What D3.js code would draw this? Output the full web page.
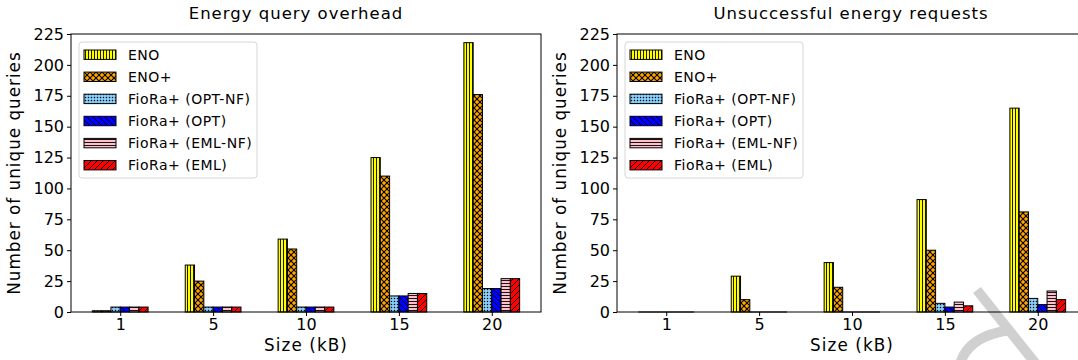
<!DOCTYPE html>
<html>
<head>
<meta charset="utf-8">
<script src="https://cdn.jsdelivr.net/npm/d3@7"></script>
<style>
  body { margin: 0; background: #fff; }
  svg { display: block; font-family: "DejaVu Sans", sans-serif; }
</style>
</head>
<body>
<svg id="chart" width="1078" height="360"></svg>
<script>
// Data
const sizes = ["1", "5", "10", "15", "20"];
const seriesNames = ["ENO", "ENO+", "FioRa+ (OPT-NF)", "FioRa+ (OPT)", "FioRa+ (EML-NF)", "FioRa+ (EML)"];
const yTicks = [0, 25, 50, 75, 100, 125, 150, 175, 200, 225];

// Energy query overhead
const overheadEno = [1, 38, 59, 125, 218];
const overheadEnoPlus = [1, 25, 51, 110, 176];
const overheadOptNf = [4, 4, 4, 13, 19];
const overheadOpt = [4, 4, 4, 13, 19];
const overheadEmlNf = [4, 4, 4, 15, 27];
const overheadEml = [4, 4, 4, 15, 27];

// Unsuccessful energy requests
const failedEno = [0, 29, 40, 91, 165];
const failedEnoPlus = [0, 10, 20, 50, 81];
const failedOptNf = [0, 0, 0, 7, 11];
const failedOpt = [0, 0, 0, 4, 6];
const failedEmlNf = [0, 0, 0, 8, 17];
const failedEml = [0, 0, 0, 5, 10];

const fills = ["#ffff00", "#ffa500", "#87cefa", "#0000ff", "#ffc0cb", "#ff0000"];
const hatches = ["vert", "cross", "dots", "back", "horiz", "fwd"];

const svg = d3.select("#chart");

// Faint grey watermark stroke in the lower right corner (behind everything)
const mark = svg.append("g")
    .attr("fill", "none")
    .attr("stroke", "#d0d0d0")
    .attr("stroke-width", 10)
    .attr("stroke-linecap", "butt");
mark.append("path").attr("d", "M977,290 L1036,364");
mark.append("path").attr("d", "M960,364 Q968,336 1010,330");

// Hatch patterns (black strokes over the fill colour)
const defs = svg.append("defs");
function addPattern(id, color, kind) {
    const size = kind === "cross" || kind === "back" || kind === "fwd" ? 6 : 3;
    const p = defs.append("pattern")
        .attr("id", id)
        .attr("patternUnits", "userSpaceOnUse")
        .attr("width", size)
        .attr("height", size);
    p.append("rect").attr("width", size).attr("height", size).attr("fill", color);
    const sw = kind === "cross" ? 1.1 : 0.9;
    const line = (x1, y1, x2, y2) => p.append("line")
        .attr("x1", x1).attr("y1", y1).attr("x2", x2).attr("y2", y2)
        .attr("stroke", "#000").attr("stroke-width", sw);
    if (kind === "vert") line(1.5, 0, 1.5, size);
    if (kind === "horiz") line(0, 1.5, size, 1.5);
    if (kind === "fwd") { line(0, size, size, 0); line(-1, 1, 1, -1); line(size - 1, size + 1, size + 1, size - 1); }
    if (kind === "back") { line(0, 0, size, size); line(-1, size - 1, 1, size + 1); line(size - 1, -1, size + 1, 1); }
    if (kind === "cross") {
        line(0, 0, size, size); line(0, size, size, 0);
    }
    if (kind === "dots") {
        p.append("circle").attr("cx", 1.5).attr("cy", 1.5).attr("r", 0.75).attr("fill", "#000");
    }
}
seriesNames.forEach((s, i) => addPattern("hatch" + i, fills[i], hatches[i]));

const margin = { top: 34, bottom: 312 };
const y = d3.scaleLinear().domain([0, 225]).range([margin.bottom, margin.top]);
const barWidth = 0.1;

function drawPanel(left, right, title, series, titleX) {
    const x = d3.scaleLinear().domain([-0.53, 4.53]).range([left, right]);
    const g = svg.append("g");

    // Bars
    series.forEach((values, si) => {
        const offset = (si - 2.5) * barWidth;
        values.forEach((v, ci) => {
            const x0 = x(ci + offset - barWidth / 2);
            const w = x(ci + offset + barWidth / 2) - x0;
            if (v > 0) {
                g.append("rect")
                    .attr("x", x0)
                    .attr("y", y(v))
                    .attr("width", w)
                    .attr("height", y(0) - y(v))
                    .attr("fill", `url(#hatch${si})`)
                    .attr("stroke", "#000")
                    .attr("stroke-width", 1);
            } else {
                g.append("line")
                    .attr("x1", x0).attr("x2", x0 + w)
                    .attr("y1", y(0)).attr("y2", y(0))
                    .attr("stroke", "#000").attr("stroke-width", 1);
            }
        });
    });

    // Frame
    g.append("rect")
        .attr("x", left).attr("y", margin.top)
        .attr("width", right - left).attr("height", margin.bottom - margin.top)
        .attr("fill", "none").attr("stroke", "#000").attr("stroke-width", 1);

    // Axes
    const xAxis = d3.axisBottom(x)
        .tickValues(d3.range(sizes.length))
        .tickFormat((d) => sizes[d])
        .tickSize(4).tickPadding(3);
    const gx = g.append("g").attr("transform", `translate(0,${margin.bottom})`).call(xAxis);
    const yAxis = d3.axisLeft(y).tickValues(yTicks).tickSize(4).tickPadding(3);
    const gy = g.append("g").attr("transform", `translate(${left},0)`).call(yAxis);
    [gx, gy].forEach((a) => {
        a.select(".domain").remove();
        a.selectAll("text").attr("font-size", 16).attr("font-family", "DejaVu Sans").attr("fill", "#000");
        a.selectAll("line").attr("stroke", "#000");
    });

    // Labels
    g.append("text")
        .attr("x", titleX).attr("y", 19)
        .attr("text-anchor", "middle")
        .attr("font-size", 16.5).attr("letter-spacing", 1)
        .text(title);
    g.append("text")
        .attr("x", (left + right) / 2).attr("y", 351)
        .attr("text-anchor", "middle")
        .attr("font-size", 16.8).attr("letter-spacing", 1.1)
        .text("Size (kB)");
    g.append("text")
        .attr("transform", `translate(${left - 51},${(margin.top + margin.bottom) / 2}) rotate(-90)`)
        .attr("text-anchor", "middle")
        .attr("font-size", 16.8).attr("letter-spacing", 1)
        .text("Number of unique queries");

    // Legend
    const lx = left + 8, ly = 42;
    const lg = g.append("g");
    lg.append("rect")
        .attr("x", lx).attr("y", ly).attr("width", 178).attr("height", 136)
        .attr("rx", 3).attr("fill", "rgba(255,255,255,0.8)")
        .attr("stroke", "#d6d6d6").attr("stroke-width", 1);
    seriesNames.forEach((name, i) => {
        const cy = ly + 12.7 + i * 22.1;
        lg.append("rect")
            .attr("x", lx + 5).attr("y", cy - 4.7)
            .attr("width", 32).attr("height", 9.4)
            .attr("fill", `url(#hatch${i})`)
            .attr("stroke", "#000").attr("stroke-width", 1);
        lg.append("text")
            .attr("x", lx + 49).attr("y", cy + 5)
            .attr("font-size", 14).attr("letter-spacing", 0.5)
            .text(name);
    });
}

drawPanel(71, 541, "Energy query overhead",
    [overheadEno, overheadEnoPlus, overheadOptNf, overheadOpt, overheadEmlNf, overheadEml], 296);
drawPanel(617, 1087, "Unsuccessful energy requests",
    [failedEno, failedEnoPlus, failedOptNf, failedOpt, failedEmlNf, failedEml], 851);
</script>
</body>
</html>
